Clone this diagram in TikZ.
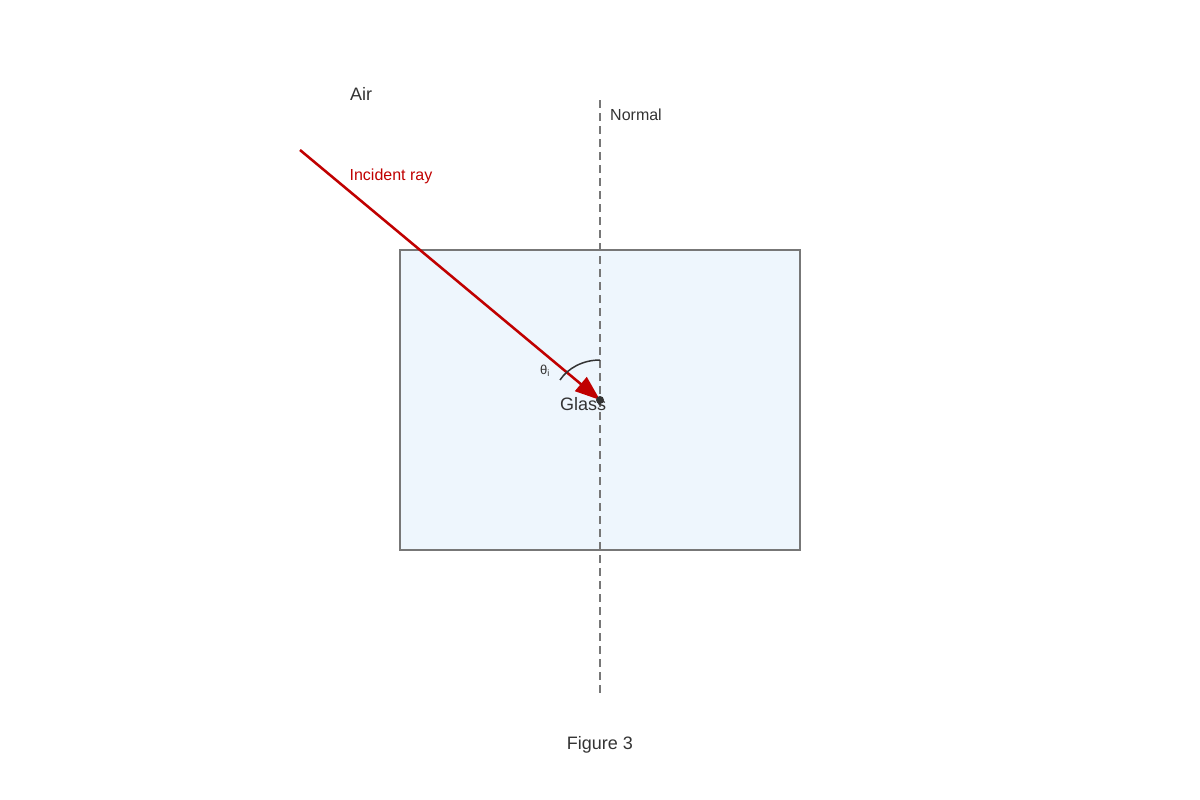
\documentclass[tikz,border=0pt]{standalone}
\usepackage{fontspec}
\setmainfont{Liberation Sans}
\usetikzlibrary{arrows.meta}
\definecolor{raycol}{HTML}{C00000}
\definecolor{boxfill}{HTML}{EEF6FD}
\definecolor{boxline}{HTML}{777777}
\definecolor{txt}{HTML}{333333}
\tikzset{
  lbl/.style={inner sep=0pt, text=txt, font=\fontsize{18pt}{20pt}\selectfont},
  smalllbl/.style={inner sep=0pt, text=txt, font=\fontsize{16pt}{18pt}\selectfont},
  normalline/.style={draw=boxline, line width=1.5pt, dash pattern=on 8pt off 5pt},
  ray/.style={draw=raycol, line width=2.5pt, -{Triangle[length=25pt,width=18pt]}},
}
\begin{document}
\begin{tikzpicture}[x=1pt,y=-1pt]
\useasboundingbox (0,0) rectangle (1200,800);
\node[draw=boxline, fill=boxfill, line width=1.5pt, minimum width=400pt, minimum height=300pt, inner sep=0pt] (glassbox) at (600,400) {};
\coordinate (ntop) at (600,100);
\coordinate (nbot) at (600,695);
\draw[normalline] (ntop) -- (nbot);
\coordinate (src) at (300,150);
\coordinate (hit) at (600,400);
\draw[ray] (src) -- (hit);
\coordinate (arcA) at (600,360);
\coordinate (arcB) at (560,380);
\draw[txt, line width=1.5pt] (arcA) .. controls (583,360) and (568,368) .. (arcB);
\node[circle, fill=txt, inner sep=0pt, minimum size=8pt] (dot) at (hit) {};
\node[inner sep=0pt, text=txt, font=\fontsize{13pt}{15pt}\selectfont] (theta) at (545,371) {θ\textsubscript{i}};
\node[lbl] (glass) at (583,404) {Glass};
\node[lbl] (air) at (361,94) {Air};
\node[smalllbl] (normal) at (636,115) {Normal};
\node[smalllbl, text=raycol] (inc) at (391,176) {Incident ray};
\node[lbl] (fig) at (600,745) {Figure 3};
\end{tikzpicture}
\end{document}
